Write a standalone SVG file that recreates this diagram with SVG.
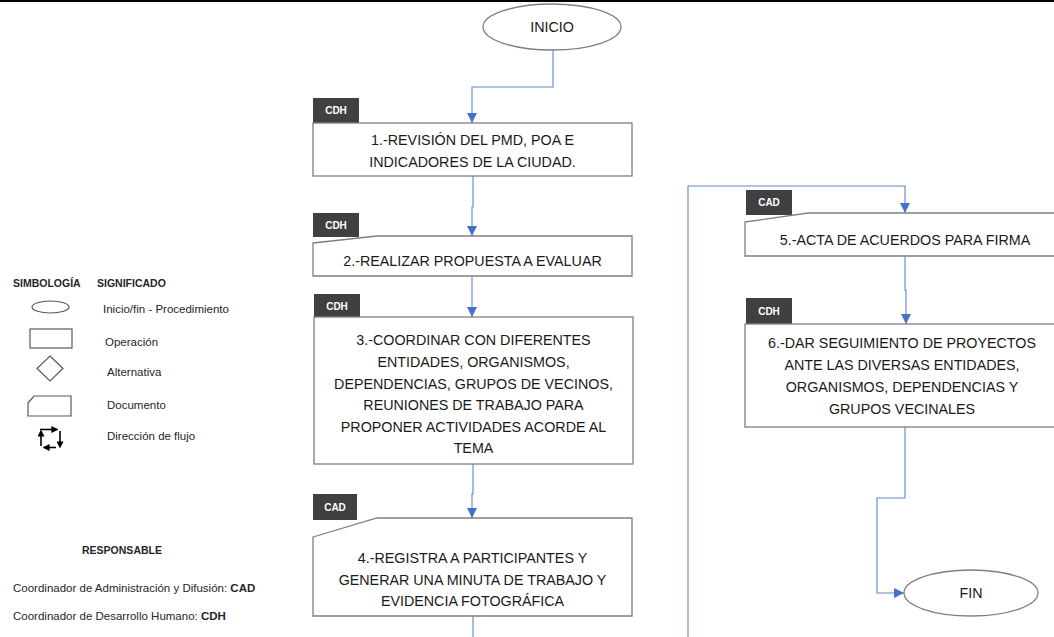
<svg xmlns="http://www.w3.org/2000/svg" width="1054" height="637" viewBox="0 0 1054 637">
  <style>
    .box { fill: #ffffff; stroke: #7f7f7f; stroke-width: 1.3; }
    .tag { fill: #404040; }
    .tagtxt { font-family: "Liberation Sans", Arial, sans-serif; font-size: 10px; font-weight: bold; fill: #ffffff; text-anchor: middle; dominant-baseline: central; }
    .txt { font-family: "Liberation Sans", Arial, sans-serif; font-size: 14.3px; fill: #1a1a1a; text-anchor: middle; dominant-baseline: central; }
    .flow { fill: none; stroke: #5b85d0; stroke-width: 1.1; }
    .leg { fill: #ffffff; stroke: #595959; stroke-width: 1.2; }
    .legtxt { font-family: "Liberation Sans", Arial, sans-serif; font-size: 11.5px; fill: #262626; dominant-baseline: central; }
    .legbold { font-family: "Liberation Sans", Arial, sans-serif; font-size: 10.5px; font-weight: bold; fill: #262626; dominant-baseline: central; }
    .icon { fill: none; stroke: #000000; stroke-width: 1.6; }
  </style>
  <defs>
    <marker id="arrow" markerUnits="userSpaceOnUse" markerWidth="10" markerHeight="10" viewBox="0 0 10 10" refX="10" refY="5" orient="auto">
      <path d="M0,0 L10,5 L0,10 Z" fill="#4472c4"/>
    </marker>
    <marker id="iconArrow" markerUnits="userSpaceOnUse" markerWidth="7" markerHeight="7" viewBox="0 0 10 10" refX="8" refY="5" orient="auto">
      <path d="M0,0 L10,5 L0,10 Z" fill="#000000"/>
    </marker>
  </defs>

  <rect width="1054" height="637" fill="#ffffff"/>
  <!-- top rule -->
  <rect x="0" y="0" width="1054" height="2" fill="#000000"/>

  <!-- connectors -->
  <g id="connectors">
    <path class="flow" d="M553,50 V87 H472 V123" marker-end="url(#arrow)"/>
    <path class="flow" d="M473,176 V207 H472 V236" marker-end="url(#arrow)"/>
    <path class="flow" d="M472,276 V317" marker-end="url(#arrow)"/>
    <path class="flow" d="M473,464 V494 H472 V518" marker-end="url(#arrow)"/>
    <path class="flow" d="M473,616 V637"/>
    <path class="flow" d="M688,637 V186 H905 V213" marker-end="url(#arrow)"/>
    <path class="flow" d="M905,256 V290 H906 V324" marker-end="url(#arrow)"/>
    <path class="flow" d="M905,427 V498 H877 V593 H904" marker-end="url(#arrow)"/>
  </g>

  <!-- start -->
  <g id="inicio">
    <ellipse class="box" cx="552" cy="27" rx="69" ry="23"/>
    <text class="txt" x="552" y="27">INICIO</text>
  </g>

  <!-- step 1 -->
  <g id="paso1">
    <rect class="tag" x="313" y="98" width="46" height="25"/>
    <text class="tagtxt" x="336" y="110.5">CDH</text>
    <rect class="box" x="313" y="123" width="319" height="53"/>
    <text class="txt" x="472.5" y="140">1.-REVISIÓN DEL PMD, POA E</text>
    <text class="txt" x="472.5" y="162">INDICADORES DE LA CIUDAD.</text>
  </g>

  <!-- step 2 -->
  <g id="paso2">
    <rect class="tag" x="313" y="213" width="46" height="24"/>
    <text class="tagtxt" x="336" y="225">CDH</text>
    <path class="box" d="M313,243 L377,236 L632,236 L632,276 L313,276 Z"/>
    <text class="txt" x="472.5" y="261">2.-REALIZAR PROPUESTA A EVALUAR</text>
  </g>

  <!-- step 3 -->
  <g id="paso3">
    <rect class="tag" x="314" y="294" width="46" height="24"/>
    <text class="tagtxt" x="337" y="306">CDH</text>
    <rect class="box" x="314" y="317" width="319" height="147"/>
    <text class="txt" x="473.5" y="340">3.-COORDINAR CON DIFERENTES</text>
    <text class="txt" x="473.5" y="362">ENTIDADES, ORGANISMOS,</text>
    <text class="txt" x="473.5" y="383.5">DEPENDENCIAS, GRUPOS DE VECINOS,</text>
    <text class="txt" x="473.5" y="405">REUNIONES DE TRABAJO PARA</text>
    <text class="txt" x="473.5" y="426.5">PROPONER ACTIVIDADES ACORDE AL</text>
    <text class="txt" x="473.5" y="448">TEMA</text>
  </g>

  <!-- step 4 -->
  <g id="paso4">
    <rect class="tag" x="313" y="494" width="44" height="26"/>
    <text class="tagtxt" x="335" y="507">CAD</text>
    <path class="box" d="M313,537 L377,518 L632,518 L632,616 L313,616 Z"/>
    <text class="txt" x="472.5" y="558">4.-REGISTRA A PARTICIPANTES Y</text>
    <text class="txt" x="472.5" y="580">GENERAR UNA MINUTA DE TRABAJO Y</text>
    <text class="txt" x="472.5" y="601">EVIDENCIA FOTOGRÁFICA</text>
  </g>

  <!-- step 5 -->
  <g id="paso5">
    <rect class="tag" x="746" y="190" width="46" height="25"/>
    <text class="tagtxt" x="769" y="202.5">CAD</text>
    <path class="box" d="M745,222 L808,213 L1062,213 L1062,256 L745,256 Z"/>
    <text class="txt" x="905" y="240">5.-ACTA DE ACUERDOS PARA FIRMA</text>
  </g>

  <!-- step 6 -->
  <g id="paso6">
    <rect class="tag" x="746" y="298" width="46" height="26"/>
    <text class="tagtxt" x="769" y="311">CDH</text>
    <rect class="box" x="745" y="324" width="317" height="103"/>
    <text class="txt" x="902" y="343">6.-DAR SEGUIMIENTO DE PROYECTOS</text>
    <text class="txt" x="902" y="365">ANTE LAS DIVERSAS ENTIDADES,</text>
    <text class="txt" x="902" y="387">ORGANISMOS, DEPENDENCIAS Y</text>
    <text class="txt" x="902" y="409">GRUPOS VECINALES</text>
  </g>

  <!-- end -->
  <g id="fin">
    <ellipse class="box" cx="971" cy="593" rx="67" ry="23"/>
    <text class="txt" x="971" y="593">FIN</text>
  </g>

  <!-- symbol legend -->
  <g id="simbologia">
    <text class="legbold" x="13" y="283">SIMBOLOGÍA</text>
    <text class="legbold" x="97" y="283">SIGNIFICADO</text>

    <ellipse class="leg" cx="50.5" cy="307" rx="18.5" ry="6"/>
    <text class="legtxt" x="103" y="309">Inicio/fin - Procedimiento</text>

    <rect class="leg" x="30" y="329" width="42" height="19"/>
    <text class="legtxt" x="105" y="342">Operación</text>

    <path class="leg" d="M50,356 L63,368.5 L50,381 L37,368.5 Z"/>
    <text class="legtxt" x="107" y="372">Alternativa</text>

    <path class="leg" d="M28,403 L34,396 L71,396 L71,416 L28,416 Z"/>
    <text class="legtxt" x="107" y="405">Documento</text>

    <g id="icono-flujo">
      <path class="icon" d="M40,429.5 H57" marker-end="url(#iconArrow)"/>
      <path class="icon" d="M60,431 V447" marker-end="url(#iconArrow)"/>
      <path class="icon" d="M56,447.5 H44" marker-end="url(#iconArrow)"/>
      <path class="icon" d="M41,446 V431" marker-end="url(#iconArrow)"/>
    </g>
    <text class="legtxt" x="107" y="436">Dirección de flujo</text>
  </g>

  <!-- responsible legend -->
  <g id="responsable">
    <text class="legbold" x="122" y="550" text-anchor="middle">RESPONSABLE</text>
    <text class="legtxt" x="13" y="588">Coordinador de Administración y Difusión: <tspan font-weight="bold">CAD</tspan></text>
    <text class="legtxt" x="13" y="616">Coordinador de Desarrollo Humano: <tspan font-weight="bold">CDH</tspan></text>
  </g>
</svg>
